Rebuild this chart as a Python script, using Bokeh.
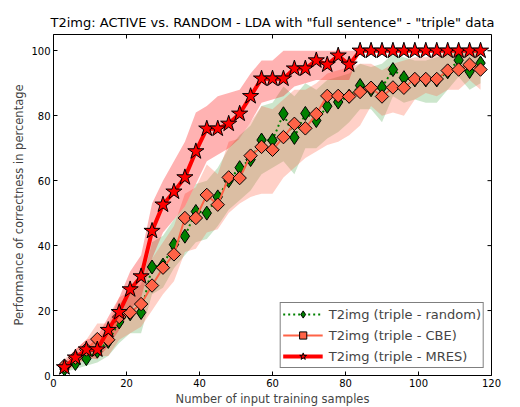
import numpy as np
from bokeh.plotting import figure
from bokeh.models import Range1d, FixedTicker, Legend, LegendItem
from bokeh.embed import file_html
from bokeh.resources import INLINE

# ---------------- data ----------------
samples = list(range(3, 118, 3))

random_mean = [2, 3.7, 5.2, 7.5, 10.5, 16.5, 19, 19.4, 33.4, 34, 40.3, 42.9, 50.5, 50,
               55, 60, 64, 66.5, 72.5, 72.4, 80.6, 73.3, 80.7, 78.5, 82.9, 84.2, 86,
               89.3, 88, 88.7, 94.2, 91.7, 91, 91, 91, 93.5, 97.1, 93.6, 96.2]
random_low = [1, 2, 3, 4, 6, 10, 13, 13, 25, 27, 33, 37, 41, 42, 46, 51, 54, 57, 62, 64,
              66, 62, 70, 70, 73, 75, 78, 82, 82, 78, 86, 84, 85, 84, 84, 88, 92, 88, 90]
random_high = [3.5, 6, 8, 11, 15, 22, 26, 28, 41, 43, 48, 52, 59, 60, 64, 70, 74, 77, 83,
               84, 89, 86, 90, 88, 91, 92, 93, 96, 95, 96, 99, 98, 97, 97, 98, 99, 100, 99, 100]

cbe_mean = [3, 5.5, 8, 11.2, 11, 18, 19.4, 22, 27.7, 33.2, 37.3, 48.5, 48.5, 55.6, 52.6,
            61, 60.8, 67.7, 70.4, 69.5, 73.4, 77.5, 76.1, 80.5, 86.1, 86.1, 85.9, 87.3,
            88.6, 85.9, 88.7, 88.6, 91.3, 91.3, 91.3, 93.9, 94.2, 95.7, 94.2]
cbe_low = [1, 3, 5, 6, 6, 11, 13, 15, 20, 25, 29, 38, 39, 44, 45, 50, 53, 55, 56, 56, 61,
           64, 67, 69, 71, 72, 74, 77, 83, 80, 81, 80, 85, 87, 86, 88, 88, 91, 88]
cbe_high = [5, 8, 11, 16, 16, 24, 26, 29, 36, 41, 46, 56, 58, 65, 62, 72, 73, 78, 83, 82,
            85, 88, 88, 90, 93, 94, 95, 96, 96, 94, 96, 97, 98, 98, 99, 100, 100, 100, 100]

mres_mean = [2.5, 5.5, 8, 8, 14, 19.5, 26.5, 30.5, 44.5, 52.6, 56.6, 61, 69, 76, 76, 77.5,
             80.6, 86, 91.4, 91.4, 91.4, 94.5, 94.5, 97, 95.7, 98.5, 95.7,
             100, 100, 100, 100, 100, 100, 100, 100, 100, 100, 100, 100]
mres_low = [1, 3.5, 5.5, 5, 9, 14, 20, 24, 36, 44, 48, 52, 59, 66, 68, 70, 73, 78, 84, 85,
            86, 89, 90, 91, 91, 91, 91, 100, 100, 100, 100, 100, 100, 100, 100, 100, 100, 100, 100]
mres_high = [4, 8, 11, 12, 18, 24, 32, 37, 53, 60, 66, 72, 81, 83, 86, 87, 88, 93, 97, 97,
             100, 100, 100, 100, 100, 100, 100, 100, 100, 100, 100, 100, 100, 100, 100, 100, 100, 100, 100]

labels = ["T2img (triple - random)", "T2img (triple - CBE)", "T2img (triple - MRES)"]
x_ticks = [0, 20, 40, 60, 80, 100, 120]
y_ticks = [0, 20, 40, 60, 80, 100]
X_MAX, Y_MAX = 120, 105

FONT = "DejaVu Sans"
FRAME_W, FRAME_H = 438, 341
TICK_PX = 4

p = figure(frame_width=FRAME_W, frame_height=FRAME_H,
           x_range=Range1d(0, X_MAX), y_range=Range1d(0, Y_MAX),
           output_backend="svg", toolbar_location=None,
           title='T2img: ACTIVE vs. RANDOM - LDA with "full sentence" - "triple" data',
           min_border_left=53, min_border_right=27, min_border_top=34, min_border_bottom=31)

p.title.text_font = FONT
p.title.text_font_style = "normal"
p.title.text_font_size = "13px"
p.title.align = "center"
p.title.text_color = "black"

p.xgrid.visible = False
p.ygrid.visible = False
p.outline_line_color = "black"
p.outline_line_width = 1

for ax, ticks in ((p.xaxis[0], x_ticks), (p.yaxis[0], y_ticks)):
    ax.ticker = FixedTicker(ticks=ticks)
    ax.major_tick_in = TICK_PX
    ax.major_tick_out = 0
    ax.minor_tick_in = 0
    ax.minor_tick_out = 0
    ax.major_label_text_font = FONT
    ax.major_label_text_font_size = "10px"
    ax.major_label_text_color = "black"
    ax.axis_label_text_font = FONT
    ax.axis_label_text_font_size = "11.5px"
    ax.axis_label_text_font_style = "normal"
    ax.axis_line_color = "black"
    ax.major_label_standoff = 3
    ax.axis_label_standoff = 2

p.xaxis.axis_label = "Number of input training samples"
p.yaxis.axis_label = "Performance of correctness in percentage"

# inward ticks on the top and right frame edges (mirroring the axis ticks)
dy = TICK_PX * Y_MAX / FRAME_H
dx = TICK_PX * X_MAX / FRAME_W
p.segment(x0=x_ticks, y0=[Y_MAX] * len(x_ticks), x1=x_ticks, y1=[Y_MAX - dy] * len(x_ticks),
          line_color="black", line_width=1)
p.segment(x0=[X_MAX] * len(y_ticks), y0=y_ticks, x1=[X_MAX - dx] * len(y_ticks), y1=y_ticks,
          line_color="black", line_width=1)

# bands
p.varea(x=samples, y1=random_low, y2=random_high, fill_color="green", fill_alpha=0.2)
p.varea(x=samples, y1=cbe_low, y2=cbe_high, fill_color="tomato", fill_alpha=0.3)
p.varea(x=samples, y1=mres_low, y2=mres_high, fill_color="red", fill_alpha=0.3)

# lines and markers
l1 = p.line(samples, random_mean, line_color="green", line_width=2, line_dash="2 3")
m1 = p.scatter(samples, random_mean, marker="diamond", size=14, fill_color="green",
               line_color="black", line_width=1)
l2 = p.line(samples, cbe_mean, line_color="tomato", line_width=2)
m2 = p.scatter(samples, cbe_mean, marker="square", angle=np.pi / 4, size=9.5,
               fill_color="tomato", line_color="black", line_width=1)
l3 = p.line(samples, mres_mean, line_color="red", line_width=4)
m3 = p.scatter(samples, mres_mean, marker="star", size=17, fill_color="red",
               line_color="black", line_width=1)

legend = Legend(items=[LegendItem(label=labels[0], renderers=[l1, m1]),
                       LegendItem(label=labels[1], renderers=[l2, m2]),
                       LegendItem(label=labels[2], renderers=[l3, m3])],
                location="bottom_right")
legend.label_text_font = FONT
legend.label_text_font_size = "13px"
legend.glyph_width = 40
legend.glyph_height = 18
legend.spacing = 3
legend.padding = 2
legend.margin = 7
legend.label_standoff = 6
legend.border_line_color = "black"
legend.border_line_width = 1
legend.background_fill_alpha = 1
p.add_layout(legend, "center")

open("out.html", "w").write(file_html(p, INLINE))
